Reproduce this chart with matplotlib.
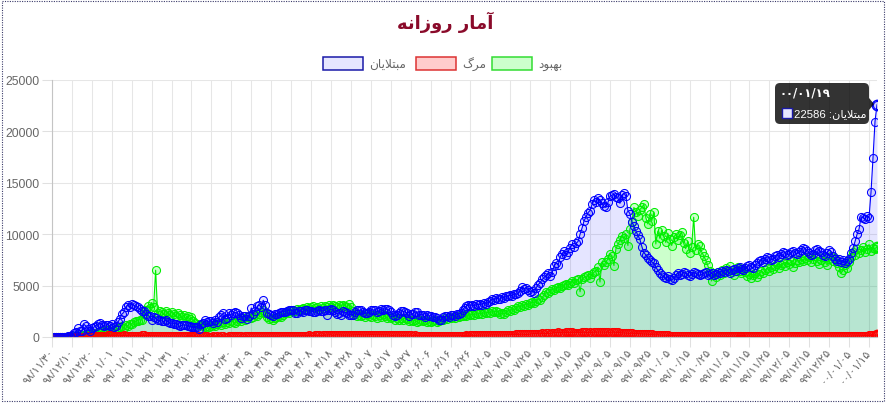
import numpy as np
import matplotlib
matplotlib.use("Agg")
import matplotlib.pyplot as plt
from matplotlib.patches import Rectangle, FancyBboxPatch, Polygon

# ---------------- data (one value per day, 98/11/30 .. 00/01/19) ----------------
infected = [
    2, 3, 13, 10, 15, 18, 34, 44, 106, 143, 205,
    385, 523, 835, 586, 591, 1234, 1076, 743, 595, 881, 958, 1075, 1289, 1365, 1209, 1053, 1178, 1192, 1046, 1237,
    966, 1028, 1411, 1762, 2206, 2389, 2926, 3076, 2901, 3186, 3110,
    2987, 2875, 2715, 2560, 2483, 2274, 2089, 1997, 1634, 1972, 1837, 1657, 1617, 1574, 1512, 1606, 1499, 1374,
    1343, 1294, 1297, 1194, 1030, 1134, 1168, 1153, 1112, 1073, 991, 1006,
    1006, 976, 802, 1223, 1323, 1680, 1485, 1556, 1529, 1383, 1683, 1481, 1958, 2102, 2346, 1757, 1806, 2294,
    2111, 2346, 2392, 2311, 2180, 1869, 2023, 2059, 1787, 2080, 2819, 2282, 2516,
    2979, 3117, 2886, 3574, 3134, 2364, 2269, 2095, 2011, 2238, 2210, 2369, 2410, 2472, 2449, 2563, 2612, 2596,
    2615, 2322, 2322, 2573, 2531, 2445, 2595, 2628, 2489, 2536, 2457, 2449,
    2549, 2652, 2523, 2560, 2613, 2163, 2637, 2691, 2586, 2397, 2262, 2349, 2186, 2521, 2388, 2379, 2166, 2182,
    2166, 2414, 2625, 2586, 2621, 2398, 2316, 2333, 2434, 2667, 2636, 2621, 2480,
    2547, 2685, 2598, 2751, 2697, 2634, 2450, 2125, 2020, 2133, 2345, 2575, 2523, 2434, 2358, 2023, 2262, 2206,
    2444, 2385, 2125, 2188, 2145, 1960, 2112, 2025, 2070, 1961, 1902, 1842, 1652,
    1650, 1900, 2000, 2050, 1950, 2100, 2150, 2050, 2200, 2250, 2350, 2600, 2850, 3000, 3150, 3050, 3150, 3000,
    3200, 3100, 3250, 3150, 3350, 3250, 3400, 3550, 3650, 3600, 3800, 3700,
    3700, 3900, 3800, 4000, 3950, 4100, 4000, 4200, 4150, 4300,
    4500, 4900, 4700, 4800, 4600, 4400, 4500, 4300, 4800, 5100, 5300,
    5600, 5800, 6000, 6200, 5900, 6300, 6900, 7200, 7000, 7800,
    8100, 8400, 8000, 8300, 8700, 9000, 8800, 9100, 9300, 10000,
    10600, 11300, 11700, 12100, 12300, 12900, 13300, 13100, 13500, 13300,
    13000, 12700, 12600, 13100, 13700, 13800, 13900, 13600, 13500, 13000,
    13800, 14000, 13700, 12300, 12000, 11200, 10800, 10300, 9900, 9500,
    8800, 8200, 8000, 7700, 7500, 7300, 7200, 6800, 6500, 6200,
    6000, 5800, 5700, 5900, 5600, 5500, 5700, 6000, 6200, 6000,
    6100, 6300, 6200, 6000, 5900, 6100, 6300, 6200, 6100, 6000,
    6100, 6200, 6300, 6000, 6100, 6200, 6000, 6100, 6300, 6200,
    6400, 6300, 6500, 6400, 6200, 6500, 6600, 6400, 6700, 6800,
    6600, 6500, 6700, 6900, 7000, 6800, 6700, 7000, 7200, 7400,
    7500, 7300, 7600, 7800, 7700, 7500, 7600, 7900, 8000, 7800,
    8100, 8300, 8200, 8000, 8100, 8300, 8400, 8200, 8100, 8300,
    8500, 8700, 8600, 8400, 8200, 8000, 8100, 8500, 8600, 8400,
    8300, 8000, 7900, 8200, 8500, 8300, 7900, 7600, 7400, 7600,
    7300, 7500, 7200, 7400, 7600, 8200, 8700, 9300, 10000, 10500,
    11700, 11600, 11500, 11800, 11600, 14100, 17430, 20954, 22586,
]

deaths = [
    2, 0, 2, 1, 3, 4, 3, 4, 7, 8, 9,
    11, 12, 11, 15, 15, 17, 21, 49, 43, 54, 63, 75, 85, 97, 113, 129, 135, 147, 149, 149,
    123, 129, 127, 122, 143, 157, 144, 139, 123, 117, 141,
    138, 124, 134, 158, 151, 136, 133, 121, 117, 122, 125, 117, 111, 98, 94, 92, 89, 73,
    87, 88, 94, 90, 88, 93, 76, 60, 96, 71, 80, 71,
    63, 47, 74, 55, 74, 68, 78, 45, 48, 51, 45, 50, 48, 71, 51, 35, 34, 62,
    55, 66, 69, 51, 58, 50, 34, 57, 56, 63, 50, 57, 63,
    81, 64, 59, 70, 75, 72, 70, 78, 74, 81, 71, 75, 107, 113, 107, 120, 115, 87,
    100, 116, 119, 121, 133, 134, 109, 144, 162, 125, 144, 162,
    147, 148, 141, 154, 163, 200, 200, 221, 153, 188, 221, 194, 203, 179, 174, 195, 183, 188,
    209, 215, 221, 229, 212, 196, 188, 216, 215, 235, 235, 216, 212,
    208, 212, 215, 203, 216, 189, 174, 156, 171, 192, 189, 167, 161, 154, 185, 174, 182, 144,
    152, 142, 136, 125, 117, 132, 124, 122, 126, 118, 116, 125, 132,
    119, 117, 120, 116, 119, 114, 117, 116, 124, 126, 136, 144, 138, 150, 144, 153, 171, 160,
    163, 182, 187, 186, 184, 179, 180, 201, 215, 198, 207, 183,
    195, 187, 210, 211, 214, 227, 239, 235, 253, 251, 272, 279, 254, 251, 269, 279, 322, 330,
    337, 322, 304, 346, 335, 346, 353, 337, 385, 415, 434, 440, 415,
    434, 410, 438, 440, 459, 445, 434, 437, 426, 422, 457, 462, 449, 434, 439, 420, 482, 461,
    472, 486, 477, 479, 462, 475, 431, 475, 469, 457, 438, 415,
    392, 391, 386, 371, 358, 373, 334, 321, 330, 321, 306, 286, 292, 272, 266, 256, 221, 209,
    221, 192, 177, 175, 174, 154, 134, 141, 131, 135, 136, 130, 124,
    115, 103, 92, 83, 88, 80, 86, 80, 80, 89, 82, 75, 84, 86, 83, 82, 84, 71,
    73, 66, 66, 73, 62, 70, 76, 81, 73, 79, 72, 76, 82,
    66, 80, 73, 70, 67, 69, 62, 75, 66, 71, 68, 71, 60, 63, 71, 69, 67, 77,
    76, 86, 72, 82, 80, 92, 95, 82, 77, 90,
    81, 90, 94, 90, 101, 86, 86, 84, 94, 95, 98, 93, 96, 85, 87, 86, 92, 87,
    83, 84, 94, 86, 77, 73, 83, 89, 93, 103, 106, 119, 125,
    133, 135, 144, 163, 159, 170, 183, 193,
]

recovered = [
    0, 0, 0, 0, 0, 0, 0, 0, 26, 49, 48,
    52, 67, 49, 261, 135, 180, 200, 250, 300, 350, 352, 375, 467, 456, 590, 500, 640, 710, 570, 880,
    600, 750, 830, 980, 1100, 920, 1150, 1080, 1300, 1250, 1450,
    1550, 1600, 1700, 1650, 2200, 2600, 3000, 2800, 3350, 2900, 6500, 2300, 2500, 2400, 2200, 2550, 2300, 2100,
    2450, 2200, 2000, 2350, 2100, 1900, 2150, 1800, 2000, 1750, 1900, 1600,
    1400, 1300, 1150, 1200, 1050, 1000, 1100, 950, 1050, 1200, 1100, 1250, 1350, 1200, 1450, 1300, 1500, 1400,
    1600, 1500, 1350, 1600, 1750, 1550, 1800, 1700, 1900, 2000, 1800, 1950, 2100,
    2000, 2200, 2450, 2650, 2350, 1900, 1750, 1850, 1700, 1800, 1900, 2050, 1900, 2150, 2300, 2450, 2350, 2500,
    2650, 2550, 2700, 2600, 2750, 2850, 2700, 2900, 2800, 2950, 3000, 2850,
    2900, 2750, 3000, 2850, 3050, 2950, 3100, 2900, 3150, 3000, 2900, 3100, 3000, 3150, 3050, 2950, 3200, 2900,
    2500, 2200, 2050, 2150, 2000, 2100, 1950, 2200, 2050, 1900, 2150, 2000, 1850,
    2100, 1950, 2200, 2000, 1850, 2050, 1800, 1900, 1700, 1850, 1650, 1800, 1700, 1850, 1750, 1600, 1700, 1550,
    1650, 1500, 1600, 1700, 1550, 1650, 1500, 1600, 1450, 1550, 1650, 1500, 1600,
    1700, 1650, 1800, 1750, 1900, 1850, 1950, 1800, 2000, 1900, 2050, 2000, 2150, 2050, 2200, 2100, 2250, 2150,
    2300, 2200, 2350, 2250, 2400, 2300, 2450, 2350, 2500, 2400, 2550, 2450,
    2200, 2350, 2250, 2400, 2600, 2500, 2750, 2650, 2850, 3000, 2900, 3100, 3050, 3250, 3150, 3300, 3400, 3350,
    3550, 3700, 3600, 3850, 4100, 4350, 4250, 4500, 4650, 4550, 4750, 4900, 4800,
    5000, 5100, 5200, 5050, 5300, 5400, 5250, 5550, 5600, 4400, 5650, 5800, 5900, 6000, 5700, 6100, 6300, 6450,
    6800, 5350, 7300, 7000, 7300, 7600, 8100, 7900, 6950, 8600, 9000, 9400,
    9800, 9600, 10000, 8900, 10500, 11200, 12600, 12200, 11800, 12400, 12600, 12900, 11600, 11000, 12000, 11300,
    12150, 9050, 10300, 9600, 10400, 9800, 9200, 10100, 9500, 8900, 9700, 10000, 9400, 9900, 10200,
    9100, 8600, 9300, 8200, 8800, 11650, 8500, 9000, 8850, 8300, 7900, 7500, 7000, 6400, 5450, 6200, 5800, 6300,
    6000, 6500, 6200, 6700, 6400, 6900, 6300, 6000, 6600, 6800, 6400, 6200, 6600,
    6300, 5900, 6100, 5700, 6000, 6200, 5800, 6100, 6400, 6200, 6500, 6700, 6400, 6800, 6600, 6900, 7100, 6700,
    7000, 7200, 6900, 7300, 7100, 7400, 6800, 7200, 7500, 7300,
    7600, 7400, 7700, 7500, 7800, 7300, 7600, 7900, 7400, 7100, 7500, 7800, 7300, 7000, 7600, 7900, 7400, 7700,
    7200, 6800, 6200, 6500, 7000, 6700, 7300, 7800, 8300, 8000, 8600, 8200, 8500,
    8800, 8300, 8600, 9000, 8400, 8700, 8600, 8750,
]

tick_labels = [
    "۹۸/۱۱/۳۰", "۹۸/۱۲/۱۰", "۹۸/۱۲/۲۰", "۹۹/۰۱/۰۱", "۹۹/۰۱/۱۱", "۹۹/۰۱/۲۱", "۹۹/۰۱/۳۱",
    "۹۹/۰۲/۱۰", "۹۹/۰۲/۲۰", "۹۹/۰۲/۳۰", "۹۹/۰۳/۰۹", "۹۹/۰۳/۱۹", "۹۹/۰۳/۲۹", "۹۹/۰۴/۰۸",
    "۹۹/۰۴/۱۸", "۹۹/۰۴/۲۸", "۹۹/۰۵/۰۷", "۹۹/۰۵/۱۷", "۹۹/۰۵/۲۷", "۹۹/۰۶/۰۶", "۹۹/۰۶/۱۶",
    "۹۹/۰۶/۲۶", "۹۹/۰۷/۰۵", "۹۹/۰۷/۱۵", "۹۹/۰۷/۲۵", "۹۹/۰۸/۰۵", "۹۹/۰۸/۱۵", "۹۹/۰۸/۲۵",
    "۹۹/۰۹/۰۵", "۹۹/۰۹/۱۵", "۹۹/۰۹/۲۵", "۹۹/۱۰/۰۵", "۹۹/۱۰/۱۵", "۹۹/۱۰/۲۵", "۹۹/۱۱/۰۵",
    "۹۹/۱۱/۱۵", "۹۹/۱۱/۲۵", "۹۹/۱۲/۰۵", "۹۹/۱۲/۱۵", "۹۹/۱۲/۲۵", "۰۰/۰۱/۰۵", "۰۰/۰۱/۱۵",
]
last_date = "۰۰/۰۱/۱۹"
title = "آمار روزانه"
series_names = ["مبتلایان", "مرگ", "بهبود"]
y_ticks = [0, 5000, 10000, 15000, 20000, 25000]

# ---------------- Persian shaping (matplotlib has no complex text layout) ----------------
FORMS = {
    "آ": ("\uFE81", "\uFE82", None, None),
    "ا": ("\uFE8D", "\uFE8E", None, None),
    "ب": ("\uFE8F", "\uFE90", "\uFE91", "\uFE92"),
    "ت": ("\uFE95", "\uFE96", "\uFE97", "\uFE98"),
    "د": ("\uFEA9", "\uFEAA", None, None),
    "ر": ("\uFEAD", "\uFEAE", None, None),
    "ز": ("\uFEAF", "\uFEB0", None, None),
    "ل": ("\uFEDD", "\uFEDE", "\uFEDF", "\uFEE0"),
    "م": ("\uFEE1", "\uFEE2", "\uFEE3", "\uFEE4"),
    "ن": ("\uFEE5", "\uFEE6", "\uFEE7", "\uFEE8"),
    "ه": ("\uFEE9", "\uFEEA", "\uFEEB", "\uFEEC"),
    "و": ("\uFEED", "\uFEEE", None, None),
    "ی": ("\uFBFC", "\uFBFD", "\uFBFE", "\uFBFF"),
    "گ": ("\uFB92", "\uFB93", "\uFB94", "\uFB95"),
}


def _dual(c):
    return c in FORMS and FORMS[c][2] is not None


def shape(text):
    chars = list(text)
    out = []
    i, n = 0, len(chars)
    while i < n:
        c = chars[i]
        prev = chars[i - 1] if i > 0 else None
        jp = prev is not None and _dual(prev)
        if c == "ل" and i + 1 < n and chars[i + 1] == "ا":
            out.append("\uFEFC" if jp else "\uFEFB")
            i += 2
            continue
        if c not in FORMS:
            out.append(c)
            i += 1
            continue
        nxt = chars[i + 1] if i + 1 < n else None
        jn = _dual(c) and nxt is not None and nxt in FORMS
        iso, fin, ini, med = FORMS[c]
        out.append(med if (jp and jn) else fin if jp else ini if jn else iso)
        i += 1
    return "".join(reversed(out))


# ---------------- figure ----------------
W, H = 891, 406
fig = plt.figure(figsize=(W / 100, H / 100), dpi=100)
ax = fig.add_axes([52 / W, 1 - 338 / H, 825 / W, 257 / H])

x = np.arange(len(infected))
BLUE, RED, GREEN = "#0000ff", "#ff0000", "#00ee00"
fills = [(0, 1, 0, 0.2), (1, 0, 0, 0.2), (0, 0, 1, 0.1)]

ax.fill_between(x, recovered, color=fills[0], lw=0, zorder=1.0)
ax.fill_between(x, deaths, color=fills[1], lw=0, zorder=1.1)
ax.fill_between(x, infected, color=fills[2], lw=0, zorder=1.2)

for vals, col, fc, z in [(recovered, GREEN, fills[0], 2.0),
                         (deaths, RED, fills[1], 2.1),
                         (infected, BLUE, fills[2], 2.2)]:
    ax.plot(x, vals, color=col, lw=0.8, marker="o", ms=5.8, mfc=fc, mec=col, mew=0.75, zorder=z)
    ax.plot([x[-1]], [vals[-1]], marker="o", ms=7.5, mfc=fc, mec=col, mew=1.0, zorder=z + 0.05)

ax.set_xlim(0, len(infected) - 1)
ax.set_ylim(0, 25000)
ax.set_yticks(y_ticks)
ax.set_yticklabels([str(v) for v in y_ticks], fontsize=8.7, color="#666666", family="Liberation Sans")
ax.set_xticks(np.arange(0, len(infected), 10))
ax.set_xticklabels(tick_labels, rotation=50, ha="right", va="center", rotation_mode="anchor",
                   fontsize=8.0, color="#666666", family=["Liberation Sans", "DejaVu Sans"])
ax.tick_params(axis="both", length=7, width=0.75, color="#e0e0e0", pad=2)
ax.grid(True, color="#e6e6e6", lw=0.75, zorder=0)
ax.set_axisbelow(True)
for s in ["top", "right"]:
    ax.spines[s].set_visible(False)
for s in ["left", "bottom"]:
    ax.spines[s].set_color("#c4c4c4")
    ax.spines[s].set_linewidth(0.8)
ax.patch.set_alpha(0)

# ---------------- overlay in pixel coordinates ----------------
ov = fig.add_axes([0, 0, 1, 1], zorder=10)
ov.set_xlim(0, W)
ov.set_ylim(H, 0)
ov.axis("off")
ov.patch.set_alpha(0)

ov.add_patch(Rectangle((1.5, 1.5), 882.5, 400, fill=False, ec="#3a3a6a", lw=0.8, ls=(0, (1, 1.2))))

ov.text(445, 22, shape(title), ha="center", va="center", fontsize=13, fontweight="bold",
        color="#8a0a2a", family="DejaVu Sans")

leg = [(323, "#e6e6ff", "#1a1aa8", series_names[0]),
       (416, "#ffcccc", "#dd3333", series_names[1]),
       (492, "#ccffcc", "#33dd33", series_names[2])]
for lx, fc, ec, name in leg:
    ov.add_patch(Rectangle((lx, 58), 40, 13, fc=fc, ec=ec, lw=1.1))
    ov.text(lx + 46, 64.5, shape(name), ha="left", va="center", fontsize=8.7, color="#666666",
            family="DejaVu Sans")

# tooltip for the hovered last point
ov.add_patch(FancyBboxPatch((775, 84), 94, 41, boxstyle="round,pad=0,rounding_size=5",
                            fc=(0, 0, 0, 0.8), ec="none"))
ov.add_patch(Polygon([(869, 99), (874, 105), (869, 111)], closed=True, fc=(0, 0, 0, 0.8), ec="none"))
ov.text(780, 93, last_date, ha="left", va="center", fontsize=8.4, fontweight="bold", color="white",
        family="DejaVu Sans")
ov.add_patch(Rectangle((782, 108.5), 10, 10, fc="#e6e6ff", ec="#1a1aa8", lw=1.0))
ov.text(794, 114, f"{infected[-1]} :" + shape(series_names[0]), ha="left", va="center", fontsize=8.2,
        color="white", family=["Liberation Sans", "DejaVu Sans"])

fig.savefig("out.png", dpi=100)
